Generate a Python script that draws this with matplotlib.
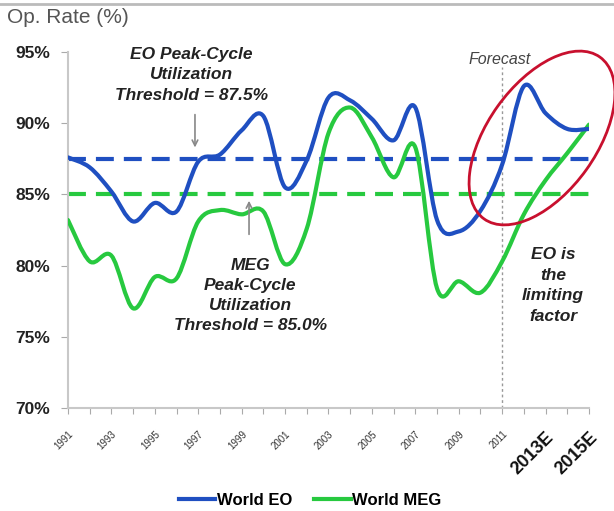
import matplotlib
matplotlib.use('Agg')
import matplotlib.pyplot as plt
from matplotlib.path import Path
from matplotlib.patches import PathPatch, Ellipse
from matplotlib.lines import Line2D
import numpy as np

plt.rcParams['font.family'] = ['Liberation Sans', 'DejaVu Sans']

# operating rates (%), one value per year
years = list(range(1991, 2016))
world_eo = [87.6, 86.9, 85.2, 83.1, 84.4, 83.8, 87.3, 87.8, 89.5, 90.5, 85.5, 87.4,
            91.8, 91.6, 90.3, 88.8, 91.1, 83.2, 82.4, 83.85, 87.1, 92.6, 90.7, 89.6, 89.6]
world_meg = [83.2, 80.3, 80.7, 77.0, 79.2, 79.1, 83.1, 83.9, 83.6, 83.8, 80.1, 82.6,
             89.3, 91.1, 89.0, 86.2, 88.3, 78.4, 78.9, 78.1, 80.3, 83.6, 86.0, 87.9, 89.9]
eo_threshold = 87.5
meg_threshold = 85.0
forecast_year = 2011
ytick_vals = [70, 75, 80, 85, 90, 95]
xtick_labels = {1991: '1991', 1993: '1993', 1995: '1995', 1997: '1997', 1999: '1999',
                2001: '2001', 2003: '2003', 2005: '2005', 2007: '2007', 2009: '2009',
                2011: '2011', 2013: '2013E', 2015: '2015E'}

BLUE = '#1f4fc1'
GREEN = '#27c93f'
RED = '#c8102e'


def smooth_path(xs, ys):
    """Excel style smoothed line: cubic bezier segments through every point."""
    pts = np.column_stack([xs, ys]).astype(float)
    verts = [pts[0]]
    codes = [Path.MOVETO]
    n = len(pts)
    for i in range(n - 1):
        p0 = pts[max(i - 1, 0)]
        p1 = pts[i]
        p2 = pts[i + 1]
        p3 = pts[min(i + 2, n - 1)]
        verts += [p1 + (p2 - p0) / 6.0, p2 - (p3 - p1) / 6.0, p2]
        codes += [Path.CURVE4] * 3
    return Path(verts, codes)


fig = plt.figure(figsize=(6.14, 5.11), dpi=100)
ax = fig.add_axes([0.1107, 0.2016, 0.8486, 0.6966])

# threshold lines
ax.plot([years[0], years[-1]], [eo_threshold] * 2, color=BLUE, lw=3,
        linestyle=(0, (4.3, 2.4)), zorder=2)
ax.plot([years[0], years[-1]], [meg_threshold] * 2, color=GREEN, lw=3,
        linestyle=(0, (4.3, 2.4)), zorder=2)

ax.add_patch(PathPatch(smooth_path(years, world_meg), fill=False, edgecolor=GREEN,
                       lw=3, capstyle='round', joinstyle='round', zorder=3))
ax.add_patch(PathPatch(smooth_path(years, world_eo), fill=False, edgecolor=BLUE,
                       lw=3, capstyle='round', joinstyle='round', zorder=4))

# forecast divider
ax.plot([forecast_year, forecast_year], [70, 93.95], color='#999999', lw=1,
        linestyle=(0, (2, 2)), zorder=1)
ax.text(2010.86, 94.44, 'Forecast', style='italic', fontsize=11.5, color='#444444',
        ha='center', va='center')

ax.set_xlim(1991, 2015)
ax.set_ylim(70, 95)

for s in ['top', 'right']:
    ax.spines[s].set_visible(False)
for s in ['left', 'bottom']:
    ax.spines[s].set_color('#c8c8c8')
    ax.spines[s].set_linewidth(1.5)

ax.set_yticks(ytick_vals)
ax.set_yticklabels(['%d%%' % v for v in ytick_vals], fontsize=12.5, fontweight='bold',
                   color='#222222')
ax.tick_params(axis='y', length=5, color='#aaaaaa', pad=8)

ax.set_xticks(years)
ax.set_xticklabels([xtick_labels.get(y, '') for y in years], rotation=45,
                   ha='right', va='top', rotation_mode='anchor')
ax.tick_params(axis='x', length=4, color='#aaaaaa', pad=11)
for lab in ax.get_xticklabels():
    if lab.get_text().endswith('E'):
        lab.set_fontsize(13)
        lab.set_fontweight('bold')
        lab.set_color('#111111')
    else:
        lab.set_fontsize(7)
        lab.set_color('#333333')

# annotations
ax.text(1996.67, 93.4, 'EO Peak-Cycle\nUtilization\nThreshold = 87.5%', fontsize=12.5,
        fontweight='bold', style='italic', ha='center', va='center', color='#222222',
        linespacing=1.45)
ax.annotate('', xy=(1996.85, 88.1), xytext=(1996.85, 90.8),
            arrowprops=dict(arrowstyle='->', color='#888888', lw=1.2))
ax.text(1999.4, 77.9, 'MEG\nPeak-Cycle\nUtilization\nThreshold = 85.0%', fontsize=12.5,
        fontweight='bold', style='italic', ha='center', va='center', color='#222222',
        linespacing=1.4)
ax.annotate('', xy=(1999.34, 84.75), xytext=(1999.34, 82.0),
            arrowprops=dict(arrowstyle='->', color='#888888', lw=1.2))
ax.text(2013.35, 78.6, 'EO is\nthe\nlimiting\nfactor', fontsize=12.5, fontweight='bold',
        style='italic', ha='center', va='center', color='#222222', linespacing=1.45)

# red ellipse around the forecast years
fig.add_artist(Ellipse((5.42, 3.73), 1.99, 1.09, angle=54.4, fill=False, edgecolor=RED,
                       lw=2, transform=fig.dpi_scale_trans, clip_on=False, zorder=5))

fig.text(0.011, 0.965, 'Op. Rate (%)', fontsize=15, color='#555555', ha='left',
         va='center')
fig.add_artist(Line2D([0, 1], [0.9916, 0.9916], color='#bbbbbb', lw=2,
                      transform=fig.transFigure))

handles = [Line2D([], [], color=BLUE, lw=3), Line2D([], [], color=GREEN, lw=3)]
fig.legend(handles, ['World EO', 'World MEG'], loc='center', bbox_to_anchor=(0.505, 0.02),
           ncol=2, frameon=False, prop={'size': 12, 'weight': 'bold'}, handlelength=2.2,
           handletextpad=0.1, columnspacing=1.3)

fig.savefig('out.png', dpi=100)
